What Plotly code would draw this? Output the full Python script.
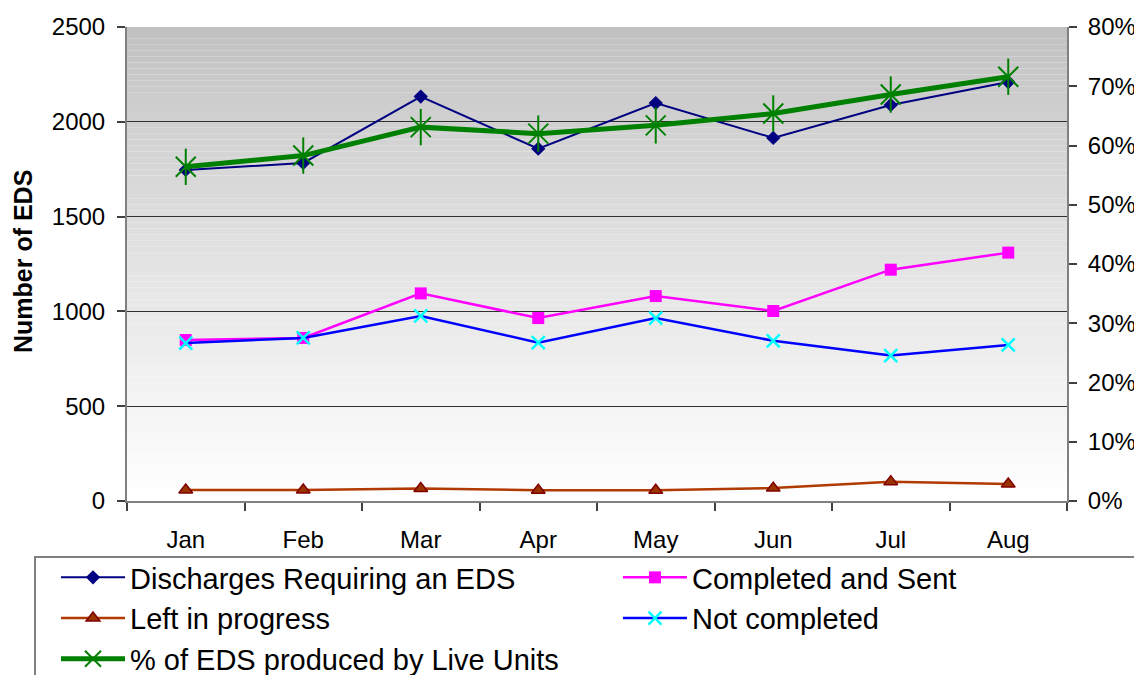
import plotly.graph_objects as go

months = ["Jan", "Feb", "Mar", "Apr", "May", "Jun", "Jul", "Aug"]
discharges = [1746, 1783, 2133, 1858, 2099, 1915, 2089, 2210]
completed_sent = [849, 860, 1095, 965, 1081, 1002, 1220, 1310]
left_in_progress = [58, 58, 66, 57, 57, 68, 102, 90]
not_completed = [833, 860, 976, 835, 965, 845, 767, 823]
pct_live_units = [56.4, 58.3, 63.1, 62.0, 63.4, 65.4, 68.6, 71.6]

left_ticks = [0, 500, 1000, 1500, 2000, 2500]
right_ticks = [0, 10, 20, 30, 40, 50, 60, 70, 80]
right_tick_labels = ["0%", "10%", "20%", "30%", "40%", "50%", "60%", "70%", "80%"]

# page offset of the plot div (browser body margin)
OFF = 8
W, H = 1142 - OFF, 675 - OFF
# plot area in page pixels: x 127..1067, y 27..501
PL, PR, PT, PB = 127, 1067, 27, 501
ML, MT = PL - OFF, PT - OFF
MR = W - (PR - OFF)
MB = H - (PB - OFF)
pw, ph = PR - PL, PB - PT
FONT = "Liberation Sans, Arial, sans-serif"


def px_x(page_x):
    return (page_x - PL) / pw


def px_y(page_y):
    return (PB - page_y) / ph


fig = go.Figure()

fig.add_trace(go.Scatter(
    x=months, y=discharges, name="Discharges Requiring an EDS",
    mode="lines+markers", line=dict(color="#000080", width=2),
    marker=dict(symbol="diamond", size=11, color="#000080"),
    legend="legend"))
fig.add_trace(go.Scatter(
    x=months, y=completed_sent, name="Completed and Sent",
    mode="lines+markers", line=dict(color="#FF00FF", width=2.5),
    marker=dict(symbol="square", size=12, color="#FF00FF"),
    legend="legend2"))
fig.add_trace(go.Scatter(
    x=months, y=left_in_progress, name="Left in progress",
    mode="lines+markers", line=dict(color="#B03A00", width=2.5),
    marker=dict(symbol="triangle-up", size=12, color="#993300",
                line=dict(color="#800000", width=1.5)),
    legend="legend"))
fig.add_trace(go.Scatter(
    x=months, y=not_completed, name="Not completed",
    mode="lines+markers", line=dict(color="#0000FF", width=2.5),
    marker=dict(symbol="x-thin-open", size=13, color="#00FFFF",
                line=dict(color="#00FFFF", width=2.5)),
    legend="legend2"))
fig.add_trace(go.Scatter(
    x=months, y=pct_live_units, name="% of EDS produced by Live Units",
    mode="lines+markers", line=dict(color="#008000", width=5),
    marker=dict(symbol="x-thin-open", size=20, color="#008000",
                line=dict(color="#008000", width=2)),
    yaxis="y2", legend="legend"))
fig.add_trace(go.Scatter(
    x=months, y=pct_live_units, mode="markers", showlegend=False,
    marker=dict(symbol="line-ns-open", size=26, color="#008000",
                line=dict(color="#008000", width=2)),
    yaxis="y2", hoverinfo="skip"))

# background gradient of the plot area (styling only)
shapes = []
N = 80
for i in range(N):
    t = (i + 0.5) / N  # 0 at top, 1 at bottom
    c = int(round(192 + 63 * t ** 0.85))
    shapes.append(dict(type="rect", xref="paper", yref="paper",
                       x0=0, x1=1, y0=1 - (i + 1) / N, y1=1 - i / N,
                       fillcolor=f"rgb({c},{c},{c})", line=dict(width=0),
                       layer="below"))
# legend frame (runs off the right and bottom edges)
shapes.append(dict(type="rect", xref="paper", yref="paper",
                   x0=px_x(35), x1=px_x(1160), y0=px_y(690), y1=px_y(557),
                   line=dict(color="#808080", width=2), fillcolor="rgba(0,0,0,0)"))

legend_common = dict(
    xref="container", yref="container", xanchor="left", yanchor="top",
    orientation="v", bgcolor="rgba(0,0,0,0)", borderwidth=0,
    font=dict(family=FONT, size=29, color="black"), itemwidth=64,
    tracegroupgap=0)

fig.update_layout(
    width=W, height=H,
    margin=dict(l=ML, r=MR, t=MT, b=MB, autoexpand=False),
    paper_bgcolor="white", plot_bgcolor="white",
    font=dict(family=FONT, size=24, color="black"),
    shapes=shapes,
    legend=dict(x=(56 - OFF) / W, y=1 - (552 - OFF) / H, **legend_common),
    legend2=dict(x=(618 - OFF) / W, y=1 - (552 - OFF) / H, **legend_common),
    annotations=[dict(text="<b>Number of EDS</b>", xref="paper", yref="paper",
                      x=px_x(23), y=px_y(262), xanchor="center", yanchor="middle",
                      textangle=-90, showarrow=False,
                      font=dict(family=FONT, size=25, color="black"))],
    xaxis=dict(
        type="category", range=[-0.5, 7.5], tickson="boundaries",
        ticks="outside", ticklen=8, tickwidth=1.5, tickcolor="#404040",
        showline=True, linecolor="#808080", linewidth=2,
        showgrid=False, ticklabelstandoff=16,
        tickfont=dict(family=FONT, size=24, color="black")),
    yaxis=dict(
        range=[0, 2500], tickvals=left_ticks, ticks="outside", ticklen=8,
        tickwidth=1.5, tickcolor="#404040",
        showline=True, linecolor="#808080", linewidth=2,
        showgrid=True, gridcolor="#303030", gridwidth=1, zeroline=False,
        ticklabelstandoff=7,
        tickfont=dict(family=FONT, size=24, color="black")),
    yaxis2=dict(
        overlaying="y", side="right", range=[0, 80], tickvals=right_ticks,
        ticktext=right_tick_labels, ticks="outside", ticklen=8, tickwidth=1.5,
        tickcolor="#404040", showline=True, linecolor="#808080", linewidth=2,
        showgrid=False, zeroline=False, ticklabelstandoff=6,
        tickfont=dict(family=FONT, size=24, color="black")),
)

fig.write_html("out.html")
